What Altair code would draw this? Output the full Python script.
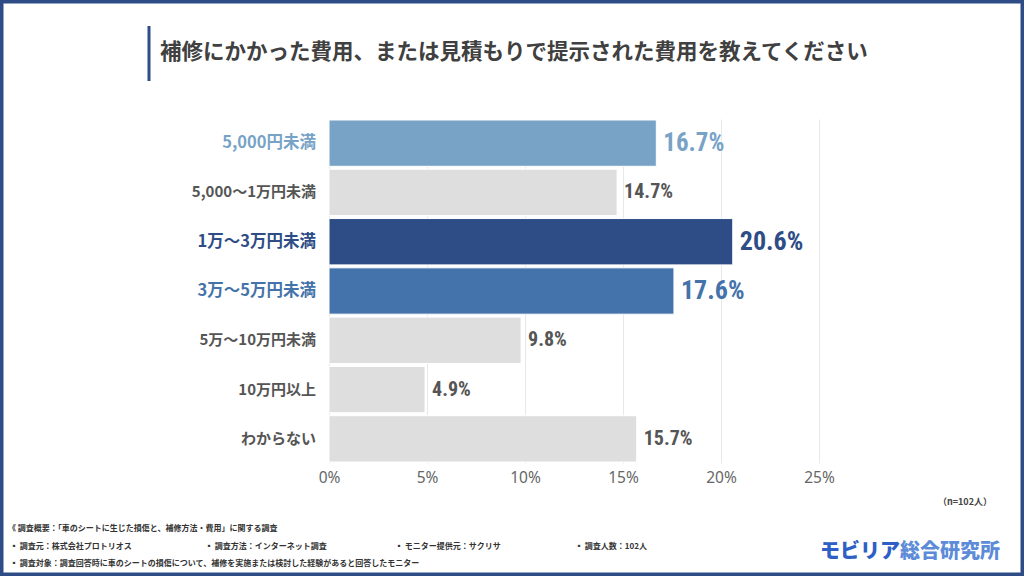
import altair as alt
import pandas as pd

categories = ["5,000円未満", "5,000〜1万円未満", "1万〜3万円未満", "3万〜5万円未満",
              "5万〜10万円未満", "10万円以上", "わからない"]
values = [16.7, 14.7, 20.6, 17.6, 9.8, 4.9, 15.7]
bar_colors = ["#78a3c6", "#dedede", "#2e4d87", "#4472aa", "#dedede", "#dedede", "#dedede"]
label_colors = ["#78a3c6", "#555555", "#2e4d87", "#4472aa", "#555555", "#555555", "#555555"]
label_sizes = [25, 20, 26, 26, 20, 20, 20]
cat_sizes = [16.5, 15, 16.5, 16.5, 15, 15, 15]
x_ticks = [0, 5, 10, 15, 20, 25]

title_text = "補修にかかった費用、または見積もりで提示された費用を教えてください"
note_lines = [
    "《 調査概要：「車のシートに生じた損傷と、補修方法・費用」に関する調査",
    "▪ 調査対象：調査回答時に車のシートの損傷について、補修を実施または検討した経験があると回答したモニター",
]
note_items = ["▪ 調査元：株式会社プロトリオス", "▪ 調査方法：インターネット調査",
              "▪ モニター提供元：サクリサ", "▪ 調査人数：102人"]
n_text = "（n=102人）"
logo_a = "モビリア"
logo_b = "総合研究所"

df = pd.DataFrame({
    "cat": categories, "val": values, "bc": bar_colors,
    "lc": label_colors, "ls": label_sizes, "cs": cat_sizes,
    "lab": [f"{v:.1f}%" for v in values],
})

W, H = 490, 344
PL, PT = 329, 119
JP = "Noto Sans CJK JP"
NUM = "Liberation Sans Narrow, Roboto Condensed, Roboto"

y_enc = alt.Y("cat:N", sort=categories, axis=None,
              scale=alt.Scale(paddingInner=0.06, paddingOuter=0.02))
x_scale = alt.Scale(domain=[0, 25], nice=False, zero=True)

bars = alt.Chart(df).mark_bar(stroke="white", strokeWidth=1).encode(
    x=alt.X("val:Q", scale=x_scale,
            axis=alt.Axis(values=x_ticks, labelExpr="datum.value + '%'", title=None,
                          grid=True, gridColor="#e8e8e8", domain=False, ticks=False,
                          labelFlush=False, labelOverlap=False,
                          labelFontSize=15.5, labelColor="#666666", labelFont="Noto Sans",
                          labelPadding=7)),
    y=y_enc,
    color=alt.Color("bc:N", scale=None),
)

vals = alt.Chart(df).mark_text(align="left", baseline="middle", dx=7, font=NUM,
                               fontWeight="bold").encode(
    x=alt.X("val:Q", scale=x_scale), y=y_enc, text="lab:N",
    color=alt.Color("lc:N", scale=None),
    size=alt.Size("ls:Q", scale=None),
)

cats = alt.Chart(df).mark_text(align="right", baseline="middle", font=JP,
                               fontWeight="bold").encode(
    x=alt.value(-13), y=y_enc, text="cat:N",
    color=alt.Color("lc:N", scale=None),
    size=alt.Size("cs:Q", scale=None),
)

one = pd.DataFrame({"k": [0]})


def txt(text, x, y, **kw):
    return alt.Chart(one).mark_text(text=text, **kw).encode(
        x=alt.value(x - PL), y=alt.value(y - PT))


frame = alt.Chart(one).mark_rect(fill=None, stroke="#2e4d87", strokeWidth=3.5).encode(
    x=alt.value(1.75 - PL), x2=alt.value(1024 - 1.75 - PL),
    y=alt.value(1.75 - PT), y2=alt.value(576 - 1.75 - PT))

accent = alt.Chart(one).mark_rule(color="#2e4d87", strokeWidth=3).encode(
    x=alt.value(149 - PL), y=alt.value(26 - PT), y2=alt.value(81 - PT))

layers = [bars, vals, cats, frame, accent,
          txt(title_text, 160, 53, align="left", baseline="middle", font=JP,
              fontWeight="bold", fontSize=21.5, color="#404040"),
          txt(n_text, 992, 502, align="right", baseline="middle", font=JP,
              fontSize=9, fontWeight="bold", color="#444444"),
          txt(note_lines[0], 8, 529, align="left", baseline="middle", font=JP,
              fontSize=8, fontWeight="bold", color="#333333"),
          txt(note_lines[1], 10, 564, align="left", baseline="middle", font=JP,
              fontSize=8, fontWeight="bold", color="#333333"),
          txt(logo_a, 820, 552, align="left", baseline="middle", font=JP,
              fontSize=20, fontWeight=900, color="#2d5fc6"),
          txt(logo_b, 900, 552, align="left", baseline="middle", font=JP,
              fontSize=20, fontWeight=900, color="#5d8bd8"),
          ]
for item, xx in zip(note_items, [10, 205, 395, 575]):
    layers.append(txt(item, xx, 547, align="left", baseline="middle", font=JP,
                      fontSize=8, fontWeight="bold", color="#333333"))

chart = alt.layer(*layers).properties(
    width=W, height=H,
    autosize=alt.AutoSizeParams(type="none"),
    padding={"left": PL, "top": PT, "right": 1024 - PL - W, "bottom": 576 - PT - H},
    background="white",
).configure_view(stroke=None)

chart.save("out.html", embed_options={"renderer": "svg", "actions": False})
